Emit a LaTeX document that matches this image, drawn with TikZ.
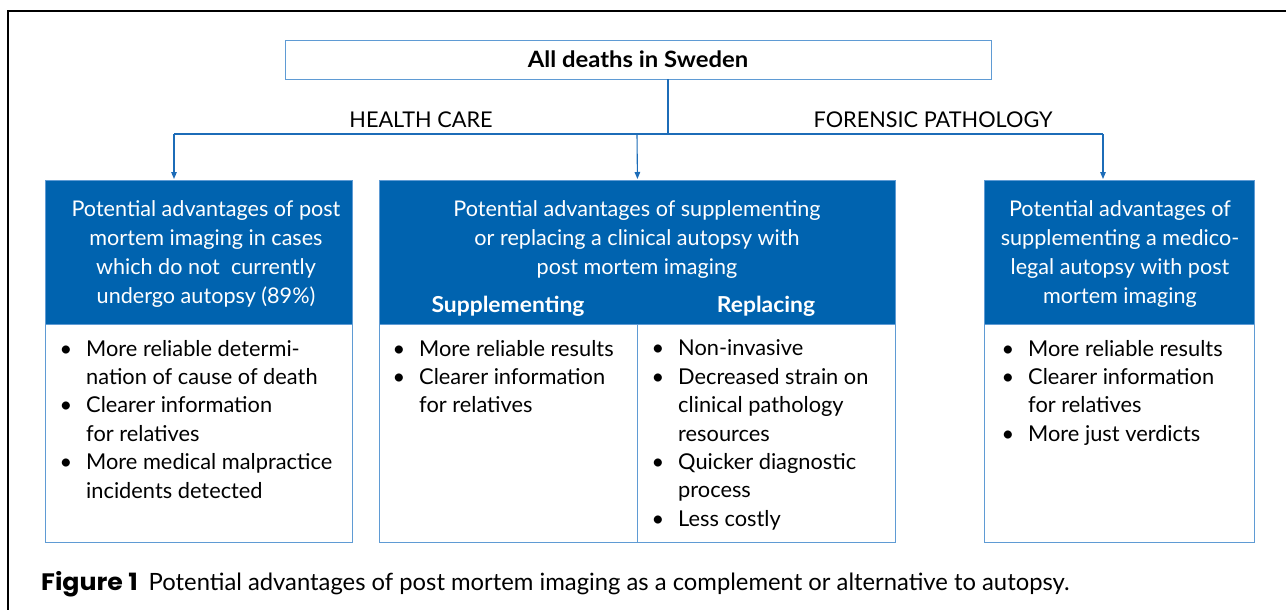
\documentclass[tikz,border=0pt]{standalone}
\usepackage{fontspec}
\setmainfont{Lato}
\newfontfamily\figfont{Poppins}
\usetikzlibrary{arrows.meta}
\definecolor{hblue}{RGB}{0,99,175}
\definecolor{lblue}{RGB}{95,155,212}
\definecolor{ablue}{RGB}{28,108,184}
\newcommand{\bul}{\llap{\textbullet\hspace{14pt}}}
\begin{document}
\begin{tikzpicture}[x=1pt,y=-1pt,
  bodybox/.style={draw=lblue, line width=0.9pt, fill=white, anchor=north west, inner sep=0},
  headbox/.style={fill=hblue, draw=lblue, line width=0.9pt, anchor=north west, inner sep=0},
  htext/.style={text=white, font=\fontsize{21.6}{29}\selectfont, align=center, inner sep=0},
  hsub/.style={text=white, font=\fontsize{22}{29}\selectfont\bfseries, inner sep=0, anchor=base},
  btext/.style={text=black, font=\fontsize{21.8}{28.4}\selectfont, align=left, inner sep=0, anchor=north west},
  link/.style={draw=ablue, line width=1.1pt},
  arr/.style={link, -{Triangle[length=7pt,width=5.5pt]}, shorten >=1pt},
  lbl/.style={font=\fontsize{21.7}{25}\selectfont, inner sep=0, anchor=base},
  topbox/.style={draw=lblue, line width=0.9pt, fill=white, inner sep=0, font=\fontsize{22.5}{25}\selectfont\bfseries}
]
\useasboundingbox (0,0) rectangle (1286,610);
\fill[white] (0,0) rectangle (1286,610);
\draw[black, line width=1.3pt] (8,610) -- (8,11) -- (1286,11);

% top box
\node[topbox, minimum width=706pt, minimum height=39pt] (top) at (638,59.5) {\scalebox{1.06}[1]{All deaths in Sweden}};

\node[lbl] (hc) at (421,128) {HEALTH CARE};
\node[lbl] (fp) at (933,128) {FORENSIC PATHOLOGY};

% left box
\node[bodybox, minimum width=307pt, minimum height=362pt] (lbox) at (45,180) {};
\node[headbox, minimum width=307pt, minimum height=144pt] (lhead) at (45,180) {};
\node[htext] (lht) at (206,254) {Potential advantages of post\\mortem imaging in cases\\which do not\ \ currently\\undergo autopsy (89\%)};
\node[btext] (lbt) at (86,339.8) {\bul More reliable determi-\\nation of cause of death\\\bul Clearer information\\for relatives\\\bul More medical malpractice\\incidents detected};

% middle box
\node[bodybox, minimum width=516pt, minimum height=362pt] (mbox) at (379,180) {};
\node[headbox, minimum width=516pt, minimum height=144pt] (mhead) at (379,180) {};
\node[htext] (mht) at (637,239.5) {Potential advantages of supplementing\\or replacing a clinical autopsy with\\post mortem imaging};
\node[hsub] (msup) at (508,312) {\scalebox{1.04}[1]{Supplementing}};
\node[hsub] (mrep) at (766,312) {\scalebox{1.04}[1]{Replacing}};
\draw[draw=lblue, line width=0.9pt] (mhead.south) -- (mbox.south);
\node[btext] (mbl) at (419,339.8) {\bul More reliable results\\\bul Clearer information\\for relatives};
\node[btext] (mbr) at (678,339.8) {\bul Non-invasive\\\bul Decreased strain on\\clinical pathology\\resources\\\bul Quicker diagnostic\\process\\\bul Less costly};

% right box
\node[bodybox, minimum width=270pt, minimum height=362pt] (rbox) at (984,180) {};
\node[headbox, minimum width=270pt, minimum height=144pt] (rhead) at (984,180) {};
\node[htext] (rht) at (1120,254) {Potential advantages of\\supplementing a medico-\\legal autopsy with post\\mortem imaging};
\node[btext] (rbt) at (1028,339.8) {\bul More reliable results\\\bul Clearer information\\for relatives\\\bul More just verdicts};

% connectors
\coordinate (jn) at (668,134);
\coordinate (cl) at (174,134);
\coordinate (cm) at (637,134);
\coordinate (cr) at (1103,134);
\draw[link] (top.south -| jn) -- (jn);
\draw[link] (cl) -- (cr);
\draw[arr] (cl) -- (cl |- lhead.north);
\draw[arr] (cm) -- (mhead.north);
\draw[arr] (cr) -- (cr |- rhead.north);

% caption
\node[anchor=base west, inner sep=0, font=\fontsize{23.8}{27}\selectfont] (cap) at (41,590) {\scalebox{1.06}[1]{\figfont\bfseries Figure\ 1}\hspace{11pt}Potential advantages of post mortem imaging as a complement or alternative to autopsy.};
\end{tikzpicture}
\end{document}
